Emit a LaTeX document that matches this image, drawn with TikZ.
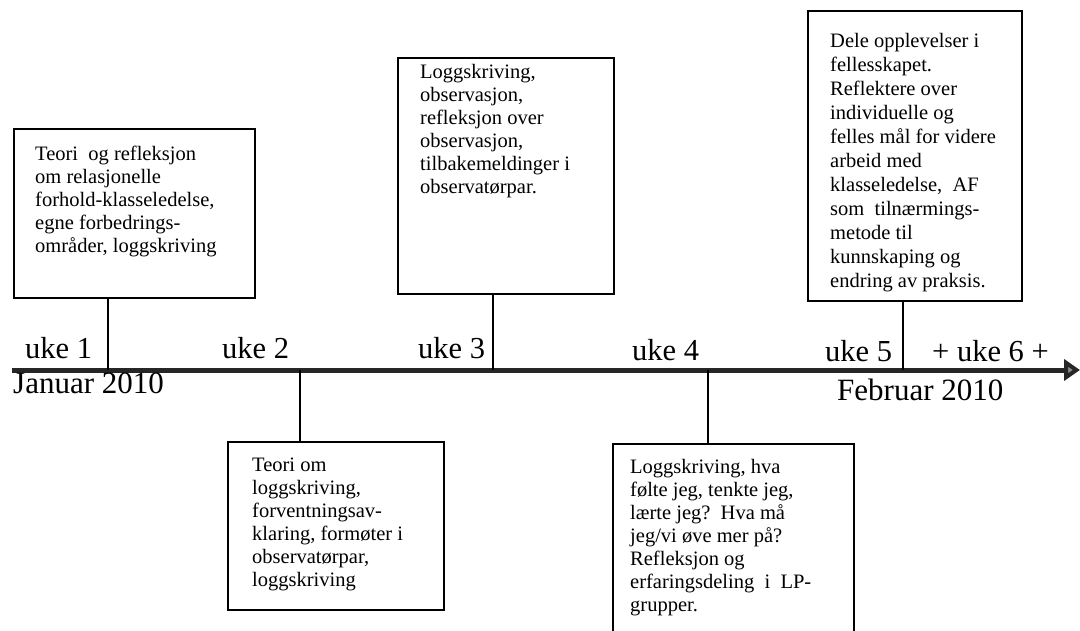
\documentclass[tikz,border=0pt]{standalone}
\usepackage{fontspec}
\setmainfont{Liberation Serif}
\usetikzlibrary{arrows.meta}
\tikzset{
  box/.style={draw=black, line width=1.8pt, fill=white, inner sep=0pt, anchor=north west},
  boxtext/.style={font=\fontsize{20.5}{23}\selectfont, align=left, inner sep=0pt, anchor=north west},
  conn/.style={draw=black, line width=1.6pt},
  axisline/.style={draw=black!85, line width=5pt, -{Triangle[length=16pt, width=21pt, fill=black!45, color=black!85]}},
  ukelabel/.style={font=\fontsize{30.5}{34}\selectfont, inner sep=0pt, anchor=base west},
  monthlabel/.style={font=\fontsize{31}{35}\selectfont, inner sep=0pt, anchor=base west}
}
\begin{document}
\begin{tikzpicture}[x=1pt,y=-1pt]
\clip (0,0) rectangle (1080,631);
\fill[white] (0,0) rectangle (1080,631);

% axis
\coordinate (axs) at (12,370);
\coordinate (axe) at (1080,370);
\draw[axisline] (axs) -- (axe);

% tick points on axis
\coordinate (t1) at (108,370);
\coordinate (t2) at (300,370);
\coordinate (t3) at (493,370);
\coordinate (t4) at (708,370);
\coordinate (t5) at (903,370);

% boxes
\node[box, minimum width=241pt, minimum height=169pt] (b1) at (13,128) {};
\node[box, minimum width=216pt, minimum height=168pt] (b2) at (227,441) {};
\node[box, minimum width=216pt, minimum height=236pt] (b3) at (397,57) {};
\node[box, minimum width=241pt, minimum height=210pt] (b4) at (612,443) {};
\node[box, minimum width=214pt, minimum height=290pt] (b5) at (807,10) {};

% connectors
\draw[conn] (b1.south -| t1) -- (t1);
\draw[conn] (t2) -- (t2 |- b2.north);
\draw[conn] (b3.south -| t3) -- (t3);
\draw[conn] (t4) -- (t4 |- b4.north);
\draw[conn] (b5.south -| t5) -- (t5);

% box texts
\node[boxtext] (x1) at (35,146) {Teori\ \ og refleksjon\\om relasjonelle\\forhold-klasseledelse,\\egne forbedrings-\\områder, loggskriving};
\node[boxtext] (x2) at (252,458) {Teori om\\loggskriving,\\forventningsav-\\klaring, formøter i\\observatørpar,\\loggskriving};
\node[boxtext] (x3) at (420,64) {Loggskriving,\\observasjon,\\refleksjon over\\observasjon,\\tilbakemeldinger i\\observatørpar.};
\node[boxtext] (x4) at (630,459) {Loggskriving, hva\\følte jeg, tenkte jeg,\\lærte jeg?\ \ Hva må\\jeg/vi øve mer på?\\Refleksjon og\\erfaringsdeling\ \ i\ \ LP-\\grupper.};
\node[boxtext, font=\fontsize{20.5}{24}\selectfont] (x5) at (830,33) {Dele opplevelser i\\fellesskapet.\\Reflektere over\\individuelle og\\felles mål for videre\\arbeid med\\klasseledelse,\ \ AF\\som\ \ tilnærmings-\\metode til\\kunnskaping og\\endring av praksis.};

% axis labels
\node[ukelabel] (u1) at (25,359) {uke 1};
\node[ukelabel] (u2) at (222,359) {uke 2};
\node[ukelabel] (u3) at (418,359) {uke 3};
\node[ukelabel] (u4) at (632,360) {uke 4};
\node[ukelabel] (u5) at (825,361) {uke 5};
\node[ukelabel] (u6) at (932,361) {+ uke 6 +};
\node[monthlabel] (m1) at (13,393) {Januar 2010};
\node[monthlabel] (m2) at (837,400) {Februar 2010};
\end{tikzpicture}
\end{document}
